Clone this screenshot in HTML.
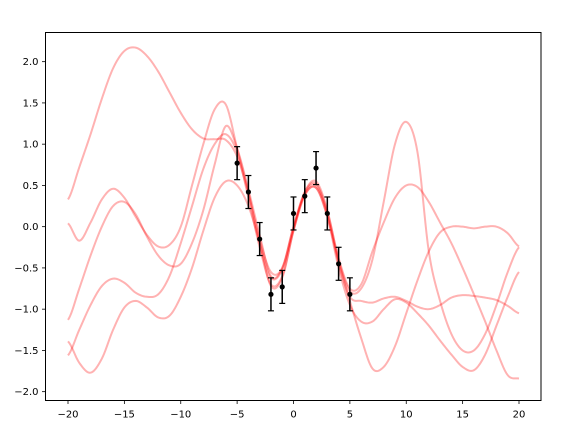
<!DOCTYPE html>
<html><head><meta charset="utf-8"><style>
body{margin:0;background:#fff;}
svg text{font-family:"DejaVu Sans","Liberation Sans",sans-serif;font-size:10px;fill:#000;}
</style></head><body>
<svg id="chart" width="570" height="428" xmlns="http://www.w3.org/2000/svg"></svg>
<script>
const xs = [-20,-19,-18,-17,-16,-15,-14,-13,-12,-11,-10,-9,-8,-7,-6,-5,-4,-3,-2,-1,0,1,2,3,4,5,6,7,8,9,10,11,12,13,14,15,16,17,18,19,20];
const sampleA = [0.33,0.72,1.12,1.55,1.92,2.13,2.17,2.07,1.88,1.63,1.38,1.18,1.07,1.06,1.05,0.85,0.4,-0.15,-0.55,-0.5,0,0.4,0.5,0.15,-0.45,-0.85,-0.9,-0.92,-0.87,-0.85,-0.9,-0.97,-1.0,-0.95,-0.86,-0.83,-0.84,-0.86,-0.89,-0.96,-1.05];
const sampleB = [0.04,-0.17,0.05,0.33,0.46,0.35,0.12,-0.1,-0.24,-0.22,0.0,0.5,1.0,1.42,1.48,0.95,0.42,-0.2,-0.62,-0.52,-0.03,0.42,0.55,0.2,-0.4,-0.78,-0.75,-0.4,0.3,1.0,1.27,0.9,-0.3,-0.9,-1.3,-1.5,-1.5,-1.3,-0.95,-0.55,-0.25];
const sampleC = [-1.13,-0.75,-0.35,0.0,0.25,0.3,0.15,-0.12,-0.35,-0.47,-0.45,-0.2,0.2,0.75,1.22,0.95,0.45,-0.1,-0.6,-0.5,0.0,0.42,0.52,0.18,-0.38,-0.75,-0.7,-0.3,0.05,0.35,0.5,0.48,0.3,0.05,-0.2,-0.5,-0.82,-1.15,-1.5,-1.8,-1.84];
const sampleD = [-1.56,-1.25,-0.95,-0.72,-0.63,-0.68,-0.8,-0.85,-0.82,-0.6,-0.2,0.25,0.7,1.0,1.12,0.9,0.35,-0.25,-0.7,-0.6,-0.05,0.38,0.47,0.12,-0.42,-0.9,-1.35,-1.72,-1.7,-1.45,-1.05,-0.65,-0.3,-0.07,0.0,0.0,-0.02,0.0,0.0,-0.08,-0.24];
const sampleE = [-1.39,-1.65,-1.77,-1.6,-1.25,-0.98,-0.9,-0.98,-1.1,-1.08,-0.85,-0.5,-0.05,0.35,0.55,0.5,0.25,-0.2,-0.72,-0.62,-0.05,0.38,0.47,0.12,-0.5,-0.95,-1.15,-1.15,-1.0,-0.88,-0.92,-1.05,-1.2,-1.38,-1.55,-1.7,-1.74,-1.55,-1.2,-0.85,-0.55];
const obsX = [-5,-4,-3,-2,-1,0,1,2,3,4,5];
const obsY = [0.77,0.42,-0.15,-0.82,-0.73,0.16,0.37,0.71,0.16,-0.45,-0.82];
const obsErr = [0.2,0.2,0.2,0.2,0.2,0.2,0.2,0.2,0.2,0.2,0.2];
const xTicks = [-20,-15,-10,-5,0,5,10,15,20];
const yTicks = [-2.0,-1.5,-1.0,-0.5,0.0,0.5,1.0,1.5,2.0];

const L=45.5,R=541,T=32.5,B=400.5;
const X=v=>293.5+v*11.275;
const Y=v=>226.67-v*82.5;
const svg=document.getElementById('chart');
const NS='http://www.w3.org/2000/svg';
function mk(tag,attrs,parent){const e=document.createElementNS(NS,tag);for(const k in attrs)e.setAttribute(k,attrs[k]);(parent||svg).appendChild(e);return e;}

const clip=mk('clipPath',{id:'pc'});mk('rect',{x:L,y:T,width:R-L,height:B-T},clip);
const samples=[sampleA,sampleB,sampleC,sampleD,sampleE];
const names=['sample-a','sample-b','sample-c','sample-d','sample-e'];
samples.forEach((s,si)=>{
  let d='';
  for(let i=0;i<xs.length-1;i++){
    const p0=s[Math.max(0,i-1)],p1=s[i],p2=s[i+1],p3=s[Math.min(xs.length-1,i+2)];
    for(let k=0;k<10;k++){
      const t=k/10,t2=t*t,t3=t2*t;
      const v=0.5*((2*p1)+(-p0+p2)*t+(2*p0-5*p1+4*p2-p3)*t2+(-p0+3*p1-3*p2+p3)*t3);
      const xv=xs[i]+t*(xs[i+1]-xs[i]);
      d+=(d?'L':'M')+X(xv).toFixed(2)+','+Y(v).toFixed(2);
    }
  }
  d+='L'+X(xs[xs.length-1]).toFixed(2)+','+Y(s[s.length-1]).toFixed(2);
  const p=mk('path',{d:d,fill:'none',stroke:'#ff0000','stroke-opacity':0.3,'stroke-width':2,'clip-path':'url(#pc)'});
  
  
});

obsX.forEach((xv,i)=>{
  const g=mk('g',{});
  
  
  const x=X(xv),y1=Y(obsY[i]+obsErr[i]),y2=Y(obsY[i]-obsErr[i]);
  mk('line',{x1:x,x2:x,y1:y1,y2:y2,stroke:'#000','stroke-width':1.5},g);
  mk('line',{x1:x-3,x2:x+3,y1:y1,y2:y1,stroke:'#000','stroke-width':1.2},g);
  mk('line',{x1:x-3,x2:x+3,y1:y2,y2:y2,stroke:'#000','stroke-width':1.2},g);
  mk('circle',{cx:x,cy:Y(obsY[i]),r:2.6,fill:'#000'},g);
});

const frame=mk('rect',{x:L,y:T,width:R-L,height:B-T,fill:'none',stroke:'#000','stroke-width':1});



xTicks.forEach(v=>{
  const x=X(v);
  mk('line',{x1:x,x2:x,y1:B,y2:B+3.5,stroke:'#000','stroke-width':0.8});
  const t=mk('text',{x:x,y:B+17,'text-anchor':'middle'});
  t.textContent=(v<0?'\u2212'+(-v):String(v));
  
  
});
yTicks.forEach(v=>{
  const y=Y(v);
  mk('line',{x1:L-3.5,x2:L,y1:y,y2:y,stroke:'#000','stroke-width':0.8});
  const t=mk('text',{x:L-7,y:y+3.5,'text-anchor':'end'});
  t.textContent=(v<0?'\u2212'+(-v).toFixed(1):v.toFixed(1));
  
  
});
</script>
</body></html>
